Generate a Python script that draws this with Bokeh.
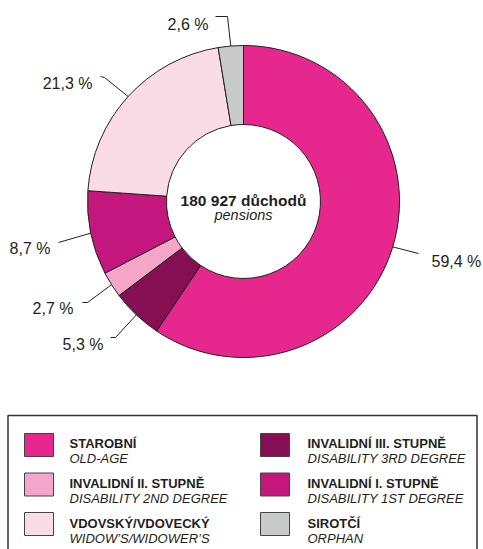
import math
from bokeh.plotting import figure
from bokeh.models import Range1d, ColumnDataSource
from bokeh.core.properties import value
from bokeh.embed import file_html
from bokeh.resources import INLINE

# ---- data ----
categories_cz = ["STAROBNÍ", "INVALIDNÍ III. STUPNĚ", "INVALIDNÍ II. STUPNĚ",
                 "INVALIDNÍ I. STUPNĚ", "VDOVSKÝ/VDOVECKÝ", "SIROTČÍ"]
categories_en = ["OLD-AGE", "DISABILITY 3RD DEGREE", "DISABILITY 2ND DEGREE",
                 "DISABILITY 1ST DEGREE", "WIDOW’S/WIDOWER’S", "ORPHAN"]
shares = [59.4, 5.3, 2.7, 8.7, 21.3, 2.6]
colors = ["#E6288E", "#850F52", "#F4A6C9", "#C4177D", "#FADCE7", "#C8CACA"]
total_label = "180 927 důchodů"
total_sub = "pensions"
legend_order = [0, 2, 4, 1, 3, 5]  # column-wise

# ---- layout ----
W, H = 483, 549
FONT = "Liberation Sans"
TXT = "#231F20"
CX, CY = 243, 201
R_OUT, R_IN = 156, 77

def Y(s):
    return -s

p = figure(width=W, height=H, output_backend="svg", toolbar_location=None,
           x_range=Range1d(0, W), y_range=Range1d(-H, 0),
           min_border=0)
p.axis.visible = False
p.grid.visible = False
p.outline_line_color = None
p.background_fill_color = "white"

# donut
cum = [0]
for s in shares:
    cum.append(cum[-1] + s)
tot = cum[-1]
starts = [math.pi / 2 - 2 * math.pi * cum[i] / tot for i in range(len(shares))]
ends = [math.pi / 2 - 2 * math.pi * cum[i + 1] / tot for i in range(len(shares))]
src = ColumnDataSource(dict(start=starts, end=ends, color=colors))
p.annular_wedge(x=CX, y=Y(CY), inner_radius=R_IN, outer_radius=R_OUT,
                inner_radius_units="screen", outer_radius_units="screen",
                start_angle="start", end_angle="end", direction="clock",
                fill_color="color", line_color=TXT, line_width=1, source=src)

# center text
p.text(x=[CX], y=[Y(200)], text=[total_label], text_font=value(FONT),
       text_font_style="bold", text_font_size="15.5px", text_align="center",
       text_baseline="alphabetic", text_color=TXT)
p.text(x=[CX], y=[Y(214)], text=[total_sub], text_font=value(FONT),
       text_font_style="italic", text_font_size="14.5px", text_align="center",
       text_baseline="alphabetic", text_color=TXT)

# leader lines + labels: (elbow x, elbow y, end x, end y, label x, baseline, align)
label_layout = [
    (418, 253, 418, 253, 431, 261, "left"),
    (115, 337, 110, 337, 103, 344, "right"),
    (87, 302, 82, 302, 73, 308, "right"),
    (58, 242, 58, 242, 50, 248, "right"),
    (104, 77, 100, 76, 92, 83, "right"),
    (227, 16, 215, 16, 208, 24, "right"),
]
for i, s in enumerate(shares):
    mid = (cum[i] + s / 2) / tot * 2 * math.pi
    sx = CX + R_OUT * math.sin(mid)
    sy = CY - R_OUT * math.cos(mid)
    ex, ey, fx, fy, lx, ly, al = label_layout[i]
    p.line(x=[sx, ex, fx], y=[Y(sy), Y(ey), Y(fy)], line_color=TXT, line_width=1)
    lab = ("%.1f" % s).replace(".", ",") + " %"
    p.text(x=[lx], y=[Y(ly)], text=[lab], text_font=value(FONT),
           text_font_size="16px", text_align=al, text_baseline="alphabetic",
           text_color=TXT)

# legend box
p.quad(left=7.5, right=476.5, top=Y(415), bottom=Y(600), fill_color=None,
       line_color="#333333", line_width=1.5)

for k, idx in enumerate(legend_order):
    col = k // 3
    row = k % 3
    swx = 24 if col == 0 else 260
    tx = 69 if col == 0 else 307
    top = 433 + 39.5 * row
    p.quad(left=swx, right=swx + 29, top=Y(top), bottom=Y(top + 23),
           fill_color=colors[idx], line_color="#444444", line_width=1)
    b = 443 + 40 * row
    p.text(x=[tx], y=[Y(b)], text=[categories_cz[idx]], text_font=value(FONT),
           text_font_style="bold", text_font_size="13px", text_align="left",
           text_baseline="alphabetic", text_color=TXT)
    p.text(x=[tx], y=[Y(b + 15)], text=[categories_en[idx]], text_font=value(FONT),
           text_font_style="italic", text_font_size="13px", text_align="left",
           text_baseline="alphabetic", text_color=TXT)

open("out.html", "w").write(file_html(p, INLINE))
